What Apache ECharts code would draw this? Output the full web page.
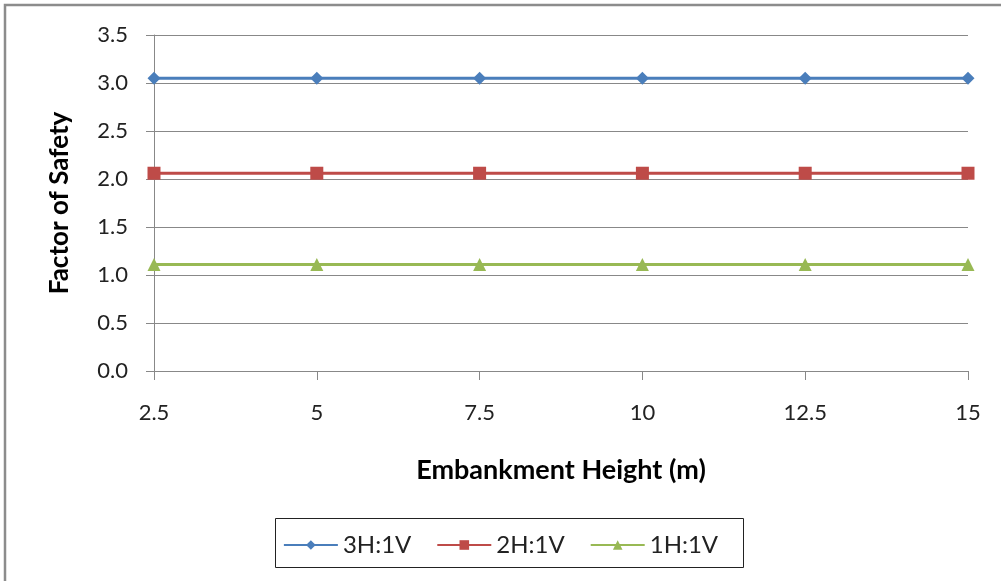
<!DOCTYPE html>
<html><head><meta charset="utf-8">
<script src="https://cdn.jsdelivr.net/npm/echarts@6/dist/echarts.min.js"></script>
<style>html,body{margin:0;padding:0;background:#fff}#c{width:1001px;height:581px}</style>
</head><body><div id="c"></div>
<script>
const heights = ['2.5','5','7.5','10','12.5','15'];
const s3H1V = [3.05,3.05,3.05,3.05,3.05,3.05];
const s2H1V = [2.06,2.06,2.06,2.06,2.06,2.06];
const s1H1V = [1.11,1.11,1.11,1.11,1.11,1.11];
const seriesNames = ['3H:1V','2H:1V','1H:1V'];
const FONT = 'Lato, "Open Sans", sans-serif';
const chart = echarts.init(document.getElementById('c'));
const mk = (name, data, color, symbol, size) => ({
  name, type:'line', data, symbol, symbolSize:size, showAllSymbol:true,
  lineStyle:{color, width:3}, itemStyle:{color}, animation:false
});
chart.setOption({
  animation:false,
  textStyle:{fontFamily:FONT},
  graphic:[
    {type:'rect', shape:{x:5, y:5, width:1010, height:600}, style:{fill:'none', stroke:'#8c8c8c', lineWidth:2.5}, silent:true},
    {type:'rect', shape:{x:275.5, y:518.5, width:468, height:49}, style:{fill:'#fff', stroke:'#222', lineWidth:1}, z:-1, silent:true}
  ],
  grid:{left:154, right:33, top:35, bottom:210},
  legend:{
    data:seriesNames, top:528, left:'center', itemWidth:54, itemHeight:12, itemGap:25,
    textStyle:{fontFamily:FONT, fontSize:24, color:'#222'}
  },
  xAxis:{
    type:'category', data:heights, boundaryGap:false,
    name:'Embankment Height (m)', nameLocation:'middle', nameGap:86,
    nameTextStyle:{fontFamily:FONT, fontSize:27, fontWeight:'bold', color:'#000'},
    axisLine:{lineStyle:{color:'#888', width:1}},
    axisTick:{show:true, length:9, lineStyle:{color:'#888'}},
    axisLabel:{fontFamily:FONT, fontSize:22, color:'#222', margin:31},
    splitLine:{show:false}
  },
  yAxis:{
    type:'value', min:0, max:3.5, interval:0.5,
    name:'Factor of Safety', nameLocation:'middle', nameGap:81, nameRotate:90,
    nameTextStyle:{fontFamily:FONT, fontSize:26, fontWeight:'bold', color:'#000'},
    axisLine:{show:true, lineStyle:{color:'#888', width:1}},
    axisTick:{show:true, length:8, lineStyle:{color:'#888'}},
    axisLabel:{fontFamily:FONT, fontSize:22, color:'#222', margin:26, formatter:v=>v.toFixed(1)},
    splitLine:{show:true, lineStyle:{color:'#888', width:1}}
  },
  series:[
    mk(seriesNames[0], s3H1V, '#4A7EBB', 'diamond', 13),
    mk(seriesNames[1], s2H1V, '#BE4B48', 'rect', 13),
    mk(seriesNames[2], s1H1V, '#98B954', 'triangle', 13)
  ]
});
</script></body></html>
